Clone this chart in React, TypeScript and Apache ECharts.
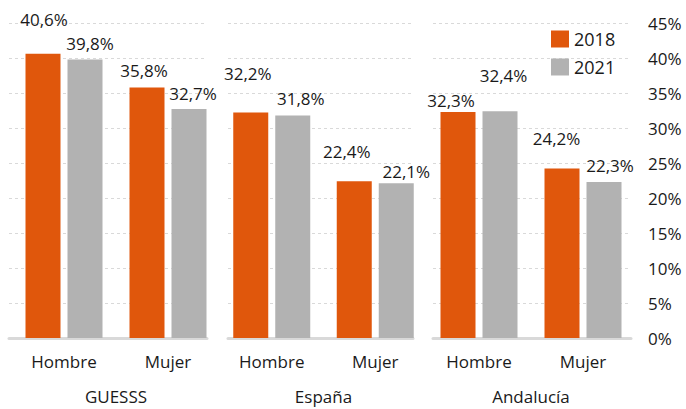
import React, { useEffect, useRef } from "react";
import * as echarts from "echarts";

const panels = ["GUESSS", "España", "Andalucía"];
const categories = ["Hombre", "Mujer"];
const seriesNames = ["2018", "2021"];
const values2018 = [
  [40.6, 35.8],
  [32.2, 22.4],
  [32.3, 24.2],
];
const values2021 = [
  [39.8, 32.7],
  [31.8, 22.1],
  [32.4, 22.3],
];
const yTicksMax = 45;
const yTickStep = 5;

// label placement tweaks (px), [dx, dy] per panel / category
const labelOffsets2018 = [
  [[1, -26], [-3, -8.4]],
  [[-3, -30.6], [-7.5, -21]],
  [[-7, -3], [-5.5, -21.6]],
];
const labelOffsets2021 = [
  [[5, -7.4], [4, -7]],
  [[8, -8], [10, -3]],
  [[3.5, -27], [6, -8]],
];

const ORANGE = "#E0570C";
const GRAY = "#B2B2B2";
const TEXT = "#1a1a1a";
const FONT = "'Open Sans'";

const fmt = (v: number) => v.toFixed(1).replace(".", ",") + "%";

export default function App() {
  const ref = useRef<HTMLDivElement>(null);
  useEffect(() => {
    if (!ref.current) return;
    const chart = echarts.init(ref.current, null, { renderer: "svg" });
    const top = 23;
    const height = 315;
    const barGrids = [
      { left: 12, width: 208 },
      { left: 220, width: 207 },
      { left: 427, width: 208 },
    ];
    const decoGrids = [
      { left: 9, width: 198 },
      { left: 228, width: 185 },
      { left: 433, width: 198 },
    ];
    const grid: any[] = [];
    const xAxis: any[] = [];
    const yAxis: any[] = [];
    const series: any[] = [];
    decoGrids.forEach((g, i) => {
      grid.push({ left: g.left, width: g.width, top, height, containLabel: false, outerBoundsMode: "none" });
      xAxis.push({
        gridIndex: i,
        type: "value",
        min: 0,
        max: 1,
        offset: 1.5,
        axisLine: { show: true, lineStyle: { color: "#d9d9d9", width: 3 } },
        axisTick: { show: false },
        axisLabel: { show: false },
        splitLine: { show: false },
      });
      yAxis.push({
        gridIndex: i,
        type: "value",
        min: 0,
        max: yTicksMax,
        interval: yTickStep,
        position: "right",
        axisLine: { show: false },
        axisTick: { show: false },
        axisLabel: {
          show: i === 2,
          margin: 17,
          formatter: "{value}%",
          fontFamily: FONT,
          fontSize: 17,
          color: TEXT,
        },
        splitLine: {
          show: true,
          lineStyle: { color: "#d9d9d9", width: 1, type: [3, 3] },
        },
      });
    });
    barGrids.forEach((g, i) => {
      const gi = i + 3;
      grid.push({ left: g.left, width: g.width, top, height, containLabel: false, outerBoundsMode: "none" });
      xAxis.push({
        gridIndex: gi,
        type: "category",
        data: categories,
        axisLine: { show: false },
        axisTick: { show: false },
        axisLabel: {
          margin: 15,
          fontFamily: FONT,
          fontSize: 17,
          color: TEXT,
        },
        name: panels[i],
        nameLocation: "middle",
        nameGap: 50,
        nameTextStyle: { fontFamily: FONT, fontSize: 17, color: TEXT },
      });
      yAxis.push({
        gridIndex: gi,
        type: "value",
        min: 0,
        max: yTicksMax,
        interval: yTickStep,
        show: false,
      });
      const mk = (vals: number[], offs: number[][]) =>
        vals.map((v, k) => ({
          value: v,
          label: { offset: offs[k] },
        }));
      const labelCfg = {
        show: true,
        position: "top",
        distance: 0,
        formatter: (p: any) => fmt(p.value),
        fontFamily: FONT,
        fontSize: 17,
        color: TEXT,
      };
      series.push({
        type: "bar",
        name: seriesNames[0],
        xAxisIndex: gi,
        yAxisIndex: gi,
        data: mk(values2018[i], labelOffsets2018[i]),
        barWidth: 35,
        barGap: "20%",
        itemStyle: { color: ORANGE },
        label: labelCfg,
      });
      series.push({
        type: "bar",
        name: seriesNames[1],
        xAxisIndex: gi,
        yAxisIndex: gi,
        data: mk(values2021[i], labelOffsets2021[i]),
        barWidth: 35,
        barGap: "20%",
        itemStyle: { color: GRAY },
        label: labelCfg,
      });
    });
    chart.setOption({
      animation: false,
      backgroundColor: "#ffffff",
      legend: {
        data: seriesNames,
        orient: "vertical",
        left: 551,
        top: 30,
        padding: 0,
        itemWidth: 18,
        itemHeight: 17,
        itemGap: 10,
        icon: "rect",
        textStyle: { fontFamily: FONT, fontSize: 18, color: TEXT },
      },
      grid,
      xAxis,
      yAxis,
      series,
    });
    return () => chart.dispose();
  }, []);
  return (
    <div
      ref={ref}
      style={{ position: "fixed", left: 0, top: 0, width: 686, height: 409 }}
    />
  );
}
